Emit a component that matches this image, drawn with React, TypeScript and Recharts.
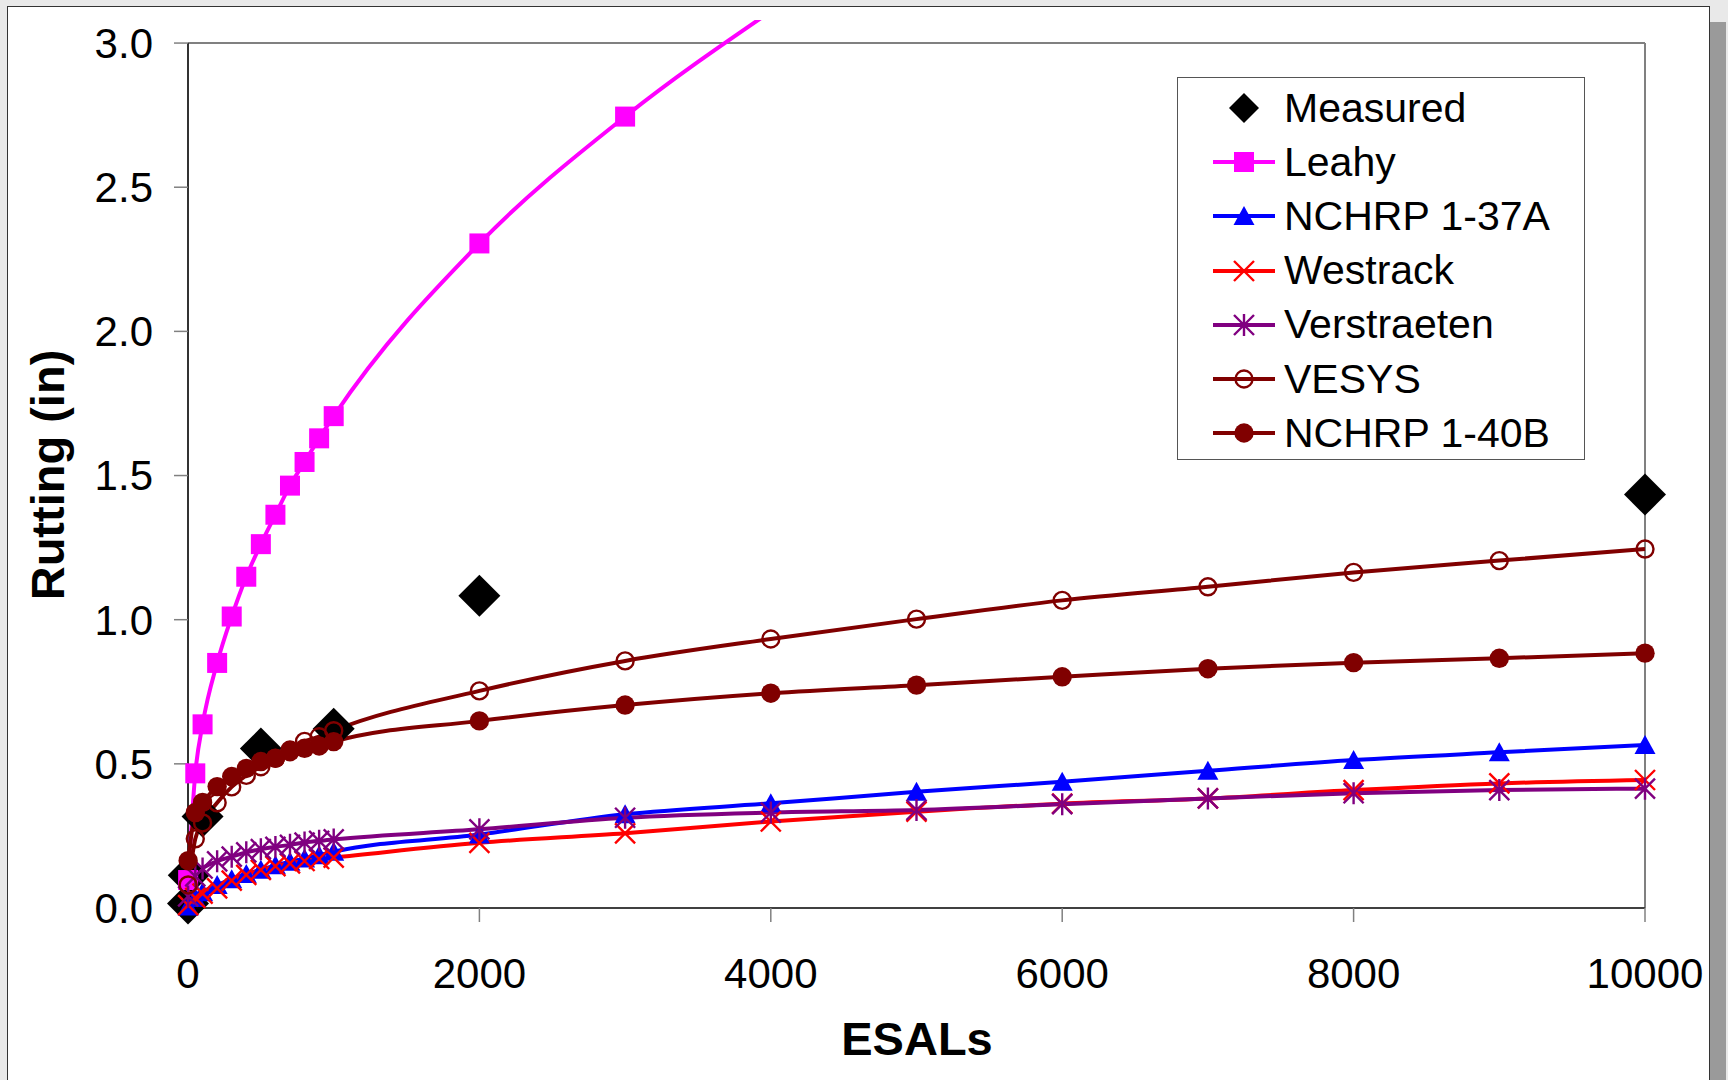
import React from 'react';
import { LineChart, Line, XAxis, YAxis, ReferenceLine, Legend, Label } from 'recharts';

// ESAL positions shared by the model series
const esals = [1, 50, 100, 200, 300, 400, 500, 600, 700, 800, 900, 1000, 2000, 3000, 4000, 5000, 6000, 7000, 8000, 9000, 10000];

// Measured rutting
const measuredEsals = [0, 5, 100, 500, 1000, 2000, 10000];
const measured = [0.016, 0.114, 0.317, 0.553, 0.622, 1.083, 1.434];

// Model predictions (in)
const leahy = [0.097, 0.467, 0.637, 0.85, 1.011, 1.149, 1.262, 1.364, 1.465, 1.547, 1.629, 1.706, 2.305, 2.745, 3.11];
const nchrp137A = [0.005, 0.035, 0.055, 0.08, 0.1, 0.118, 0.133, 0.148, 0.16, 0.172, 0.183, 0.195, 0.255, 0.325, 0.363, 0.403, 0.438, 0.476, 0.513, 0.54, 0.565];
const westrack = [0.01, 0.035, 0.05, 0.068, 0.095, 0.115, 0.132, 0.145, 0.155, 0.163, 0.17, 0.175, 0.226, 0.259, 0.3, 0.334, 0.362, 0.38, 0.409, 0.432, 0.444];
const verstraeten = [0.04, 0.11, 0.137, 0.162, 0.178, 0.193, 0.204, 0.212, 0.219, 0.227, 0.233, 0.238, 0.273, 0.313, 0.331, 0.34, 0.36, 0.38, 0.398, 0.409, 0.414];
const vesys = [0.08, 0.24, 0.295, 0.365, 0.42, 0.46, 0.49, 0.52, 0.548, 0.578, 0.594, 0.615, 0.753, 0.857, 0.933, 1.002, 1.067, 1.114, 1.164, 1.205, 1.245];
const nchrp140B = [0.164, 0.331, 0.366, 0.421, 0.456, 0.484, 0.508, 0.519, 0.542, 0.554, 0.562, 0.577, 0.649, 0.704, 0.745, 0.773, 0.802, 0.83, 0.851, 0.866, 0.884];

const xTicks = [0, 2000, 4000, 6000, 8000, 10000];
const yTicks = [0, 0.5, 1.0, 1.5, 2.0, 2.5, 3.0];
const legendNames = ['Measured', 'Leahy', 'NCHRP 1-37A', 'Westrack', 'Verstraeten', 'VESYS', 'NCHRP 1-40B'];

const toPoints = (xs: number[], ys: number[]) => ys.map((y, i) => ({ x: xs[i], y }));

const measuredData = toPoints(measuredEsals, measured);
const leahyData = toPoints(esals, leahy);
const leahyMarks = leahyData.filter((p) => p.y <= 3);
const a37Data = toPoints(esals, nchrp137A);
const westData = toPoints(esals, westrack);
const verData = toPoints(esals, verstraeten);
const vesysData = toPoints(esals, vesys);
const b40Data = toPoints(esals, nchrp140B);

const FONT = '"Liberation Sans", Arial, Helvetica, sans-serif';
const MAGENTA = '#FF00FF';
const BLUE = '#0000FF';
const RED = '#FF0000';
const PURPLE = '#800080';
const MAROON = '#800000';
const LW = 4;

type MarkerKind = 'diamond' | 'square' | 'triangle' | 'x' | 'star' | 'ocircle' | 'circle';

const Marker = ({ kind, cx, cy, big = false }: { kind: MarkerKind; cx: number; cy: number; big?: boolean }) => {
  switch (kind) {
    case 'diamond': {
      const r = big ? 21 : 15;
      return <path d={`M${cx},${cy - r}L${cx + r},${cy}L${cx},${cy + r}L${cx - r},${cy}Z`} fill="#000" />;
    }
    case 'square':
      return <rect x={cx - 10} y={cy - 10} width={20} height={20} fill={MAGENTA} />;
    case 'triangle':
      return <path d={`M${cx},${cy - 10}L${cx + 10.5},${cy + 9}L${cx - 10.5},${cy + 9}Z`} fill={BLUE} />;
    case 'x':
      return (
        <path
          d={`M${cx - 10},${cy - 10}L${cx + 10},${cy + 10}M${cx - 10},${cy + 10}L${cx + 10},${cy - 10}`}
          stroke={RED}
          strokeWidth={2.4}
          fill="none"
        />
      );
    case 'star':
      return (
        <path
          d={`M${cx - 10},${cy - 10}L${cx + 10},${cy + 10}M${cx - 10},${cy + 10}L${cx + 10},${cy - 10}M${cx},${cy - 11}L${cx},${cy + 11}`}
          stroke={PURPLE}
          strokeWidth={2.4}
          fill="none"
        />
      );
    case 'ocircle':
      return <circle cx={cx} cy={cy} r={8.5} fill="none" stroke={MAROON} strokeWidth={2.4} />;
    case 'circle':
      return <circle cx={cx} cy={cy} r={9.7} fill={MAROON} />;
  }
  return null;
};

const makeDot = (kind: MarkerKind) => (p: any) => {
  if (p.cx == null || p.cy == null) return <g key={`e-${kind}-${p.index}`} />;
  return (
    <g key={`d-${kind}-${p.index}`}>
      <Marker kind={kind} cx={p.cx} cy={p.cy} big />
    </g>
  );
};

const legendItems: { kind: MarkerKind; color: string | null }[] = [
  { kind: 'diamond', color: null },
  { kind: 'square', color: MAGENTA },
  { kind: 'triangle', color: BLUE },
  { kind: 'x', color: RED },
  { kind: 'star', color: PURPLE },
  { kind: 'ocircle', color: MAROON },
  { kind: 'circle', color: MAROON },
];

const LegendBox = () => (
  <div
    style={{
      position: 'relative',
      width: 406,
      height: 381,
      border: '1px solid #555',
      background: '#fff',
      fontFamily: FONT,
      fontSize: 41,
      color: '#000',
    }}
  >
    {legendNames.map((name, i) => {
      const cy = 30 + i * 54.2;
      const item = legendItems[i];
      return (
        <div key={name} style={{ position: 'absolute', left: 0, top: cy - 27, height: 54, width: 406 }}>
          <svg width={62} height={54} style={{ position: 'absolute', left: 35, top: 0, overflow: 'visible' }}>
            {item.color && <line x1={0} y1={27} x2={62} y2={27} stroke={item.color} strokeWidth={LW} />}
            <Marker kind={item.kind} cx={31} cy={27} />
          </svg>
          <div
            style={{
              position: 'absolute',
              left: 106,
              top: 0,
              height: 54,
              display: 'flex',
              alignItems: 'center',
              whiteSpace: 'nowrap',
              lineHeight: 'normal',
            }}
          >
            {name}
          </div>
        </div>
      );
    })}
  </div>
);

export default function App() {
  const tickStyle = { fontFamily: FONT, fontSize: 42, fill: '#000' };
  return (
    <div style={{ position: 'absolute', left: 0, top: 0, width: 1728, height: 1080, background: '#e9e9e9', overflow: 'hidden' }}>
      <div style={{ position: 'absolute', left: 1710, top: 22, width: 16, height: 1080, background: '#9a9a9a' }} />
      <div style={{ position: 'absolute', left: 7, top: 6, width: 1701, height: 1100, background: '#fff', border: '1px solid #333' }} />
      <div style={{ position: 'absolute', left: 0, top: 0 }}>
        <LineChart width={1728} height={1080} margin={{ top: 20, right: 83, left: 8, bottom: 12 }}>
          <XAxis
            dataKey="x"
            type="number"
            domain={[0, 10000]}
            ticks={xTicks}
            interval={0}
            height={160}
            tickSize={14}
            tickMargin={36}
            axisLine={{ stroke: '#404040', strokeWidth: 2 }}
            tickLine={{ stroke: '#808080', strokeWidth: 1.5 }}
            tick={tickStyle}
          >
            <Label
              content={() => (
                <text x={917} y={1055} textAnchor="middle" style={{ fontFamily: FONT, fontSize: 47, fontWeight: 'bold', fill: '#000' }}>
                  ESALs
                </text>
              )}
            />
          </XAxis>
          <YAxis
            type="number"
            domain={[0, 3.08]}
            ticks={yTicks}
            interval={0}
            width={180}
            tickSize={14}
            tickMargin={21}
            axisLine={false}
            tickLine={{ stroke: '#808080', strokeWidth: 1.5 }}
            tick={tickStyle}
            tickFormatter={(v: number) => v.toFixed(1)}
          >
            <Label
              content={() => (
                <text
                  x={64}
                  y={475}
                  transform="rotate(-90 64 475)"
                  textAnchor="middle"
                  style={{ fontFamily: FONT, fontSize: 47, fontWeight: 'bold', fill: '#000' }}
                >
                  Rutting (in)
                </text>
              )}
            />
          </YAxis>
          <YAxis yAxisId="clip" hide type="number" domain={[0, 3.08]} allowDataOverflow />

          <ReferenceLine y={3} stroke="#808080" strokeWidth={2} />
          <ReferenceLine segment={[{ x: 10000, y: 0 }, { x: 10000, y: 3 }]} stroke="#808080" strokeWidth={2} />
          <ReferenceLine segment={[{ x: 0, y: 0 }, { x: 0, y: 3 }]} stroke="#333" strokeWidth={2} />

          <Legend
            layout="horizontal"
            verticalAlign="middle"
            align="center"
            wrapperStyle={{ position: 'absolute', left: 1177, top: 77, width: 408, height: 383, margin: 0, padding: 0 }}
            content={() => <LegendBox />}
          />

          <Line data={measuredData} dataKey="y" stroke="none" dot={makeDot('diamond')} activeDot={false} isAnimationActive={false} />
          <Line data={leahyData} yAxisId="clip" dataKey="y" type="monotone" stroke={MAGENTA} strokeWidth={LW} dot={false} activeDot={false} isAnimationActive={false} />
          <Line data={leahyMarks} dataKey="y" stroke="none" dot={makeDot('square')} activeDot={false} isAnimationActive={false} />
          <Line data={a37Data} dataKey="y" type="monotone" stroke={BLUE} strokeWidth={LW} dot={makeDot('triangle')} activeDot={false} isAnimationActive={false} />
          <Line data={westData} dataKey="y" type="monotone" stroke={RED} strokeWidth={LW} dot={makeDot('x')} activeDot={false} isAnimationActive={false} />
          <Line data={verData} dataKey="y" type="monotone" stroke={PURPLE} strokeWidth={LW} dot={makeDot('star')} activeDot={false} isAnimationActive={false} />
          <Line data={vesysData} dataKey="y" type="monotone" stroke={MAROON} strokeWidth={LW} dot={makeDot('ocircle')} activeDot={false} isAnimationActive={false} />
          <Line data={b40Data} dataKey="y" type="monotone" stroke={MAROON} strokeWidth={LW} dot={makeDot('circle')} activeDot={false} isAnimationActive={false} />
        </LineChart>
      </div>
    </div>
  );
}
